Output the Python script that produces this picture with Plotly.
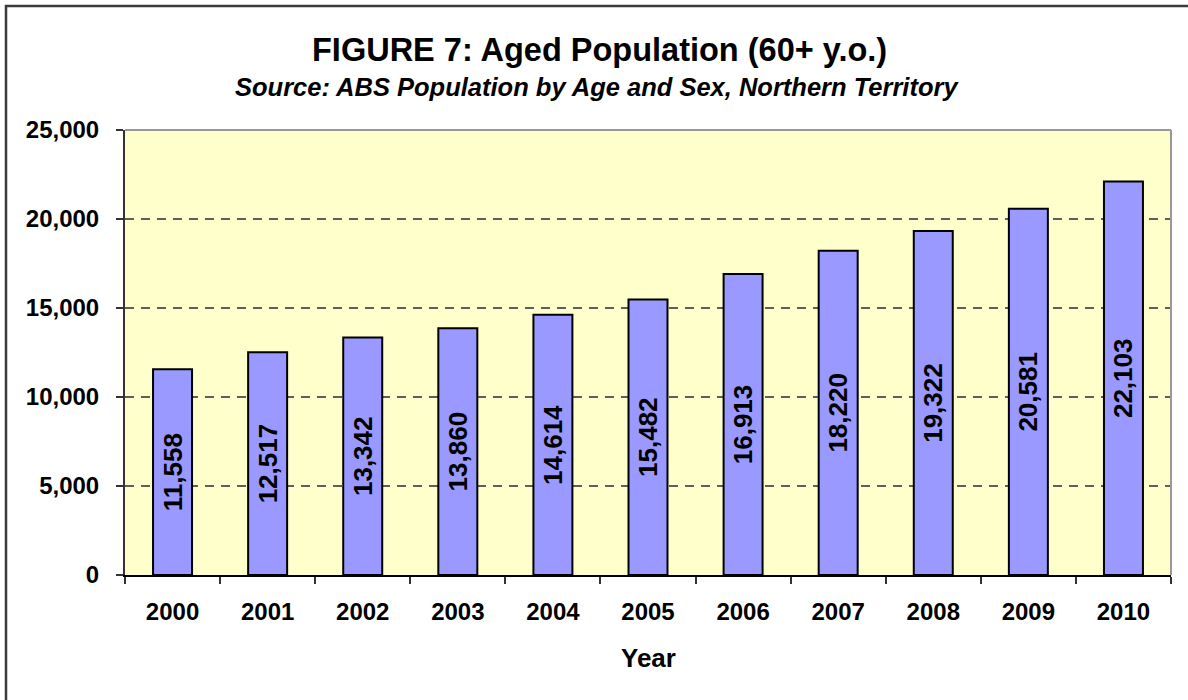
import plotly.graph_objects as go

years = ["2000", "2001", "2002", "2003", "2004", "2005", "2006", "2007", "2008", "2009", "2010"]
population = [11558, 12517, 13342, 13860, 14614, 15482, 16913, 18220, 19322, 20581, 22103]
y_ticks = [0, 5000, 10000, 15000, 20000, 25000]
y_tick_labels = ["0", "5,000", "10,000", "15,000", "20,000", "25,000"]

FONT = "Liberation Sans, Arial, sans-serif"

W, H = 1188, 700
L, R, T, B = 125, 17, 130, 125
pw, ph = W - L - R, H - T - B

def px_to_paper_x(x):
    return (x - L) / pw

def px_to_paper_y(y):
    return (H - B - y) / ph

fig = go.Figure()
fig.add_trace(go.Bar(
    x=years,
    y=population,
    marker=dict(color="#9999FF", line=dict(color="#000000", width=2)),
    text=[f"{v:,}" for v in population],
    textposition="inside",
    insidetextanchor="middle",
    textangle=-90,
    textfont=dict(family=FONT, size=26, color="#000000", weight="bold"),
    constraintext="none",
    cliponaxis=False,
))

fig.update_layout(
    width=W, height=H,
    margin=dict(l=L, r=R, t=T, b=B),
    paper_bgcolor="#FFFFFF",
    plot_bgcolor="#FFFFCC",
    bargap=0.59,
    showlegend=False,
    font=dict(family=FONT, color="#000000"),
    xaxis=dict(
        type="category",
        tickson="boundaries",
        ticks="outside", ticklen=7, tickcolor="#333333", tickwidth=1.5,
        showline=True, linecolor="#000000", linewidth=2,
        showgrid=False,
        tickfont=dict(family=FONT, size=24, color="#000000", weight="bold"),
        ticklabelstandoff=14,
    ),
    yaxis=dict(
        range=[0, 25000],
        tickvals=y_ticks, ticktext=y_tick_labels,
        ticks="outside", ticklen=7, tickcolor="#333333", tickwidth=1.5,
        showline=True, linecolor="#333333", linewidth=2,
        showgrid=True, gridcolor="#5E5E5E", griddash="9px,7px", gridwidth=1.5,
        zeroline=False,
        tickfont=dict(family=FONT, size=24, color="#000000", weight="bold"),
        ticklabelstandoff=12,
    ),
    shapes=[
        dict(type="line", xref="paper", yref="paper", x0=0, x1=1, y0=1, y1=1,
             line=dict(color="#999999", width=2)),
        dict(type="line", xref="paper", yref="paper", x0=1, x1=1, y0=0, y1=1,
             line=dict(color="#999999", width=2)),
        dict(type="rect", xref="paper", yref="paper",
             x0=px_to_paper_x(6), x1=px_to_paper_x(1300),
             y0=px_to_paper_y(800), y1=px_to_paper_y(6),
             line=dict(color="#3A3A3A", width=2.5)),
    ],
    annotations=[
        dict(text="FIGURE 7: Aged Population (60+ y.o.)", xref="paper", yref="paper",
             x=px_to_paper_x(599), y=px_to_paper_y(50), showarrow=False,
             xanchor="center", yanchor="middle",
             font=dict(family=FONT, size=32.5, color="#000000", weight="bold")),
        dict(text="<i>Source: ABS Population by Age and Sex, Northern Territory</i>",
             xref="paper", yref="paper",
             x=px_to_paper_x(597), y=px_to_paper_y(87), showarrow=False,
             xanchor="center", yanchor="middle",
             font=dict(family=FONT, size=25.5, color="#000000", weight="bold")),
        dict(text="Year", xref="paper", yref="paper",
             x=0.5, y=px_to_paper_y(658), showarrow=False,
             xanchor="center", yanchor="middle",
             font=dict(family=FONT, size=26, color="#000000", weight="bold")),
    ],
)

fig.write_html("out.html", config={"displayModeBar": False},
               post_script="document.body.style.margin='0px';")
